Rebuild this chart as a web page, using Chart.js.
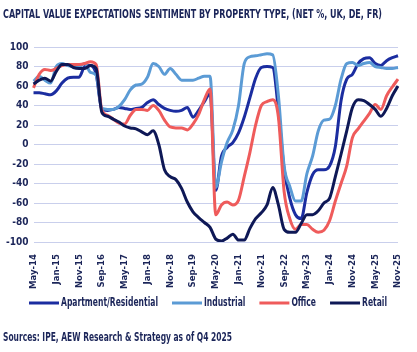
<!DOCTYPE html>
<html>
<head>
<meta charset="utf-8">
<script src="https://cdn.jsdelivr.net/npm/chart.js@4"></script>
<style>
html,body{margin:0;padding:0;background:#fff;}
#wrap{position:relative;width:417px;height:352px;}
</style>
</head>
<body>
<div id="wrap"><canvas id="c" width="417" height="352"></canvas></div>
<script>
const categories = [
  'May-14','Jul-14','Sep-14','Nov-14',
  'Jan-15','Mar-15','Jun-15','Aug-15',
  'Nov-15','Jan-16','Mar-16','Jun-16',
  'Sep-16','Nov-16','Jan-17','Mar-17',
  'May-17','Jul-17','Sep-17','Nov-17',
  'Jan-18','Mar-18','Jun-18','Aug-18',
  'Nov-18','Jan-19','Mar-19','Jun-19',
  'Sep-19','Nov-19','Jan-20','Mar-20',
  'May-20','Jul-20','Sep-20','Nov-20',
  'Jan-21','Mar-21','Jun-21','Aug-21',
  'Nov-21','Jan-22','Mar-22','Jun-22',
  'Sep-22','Nov-22','Jan-23','Mar-23',
  'May-23','Jul-23','Sep-23','Nov-23',
  'Jan-24','Mar-24','Jun-24','Aug-24',
  'Nov-24','Dec-24','Feb-25','Mar-25',
  'May-25','Jun-25','Aug-25','Sep-25',
  'Nov-25'
];
const apartment = [
  53,53,52,51, 55,63,68,69, 69,80,81,72,
  36,35,36,38, 37,36,37,38, 43,46,41,37,
  35,34,35,38, 28,35,44,52, -47,-12,-3,2,
  12,28,48,68, 79,80,79,35, -25,-55,-72,-76,
  -49,-31,-26,-26, -22,-2,45,67, 72,83,88,89,
  83,81,86,89, 91
];
const industrial = [
  65,70,66,63, 80,83,81,80, 80,83,74,71,
  37,36,36,39, 46,56,61,62, 69,83,80,72,
  78,72,66,66, 66,68,70,70, -44,-18,2,15,
  40,83,90,91, 92,93,92,50, -22,-43,-58,-58,
  -30,-12,14,25, 26,40,67,83, 84,81,83,84,
  80,79,78,78, 79
];
const office = [
  58,72,77,76, 78,81,82,82, 82,83,85,82,
  35,30,26,22, 21,30,36,36, 35,40,35,25,
  18,17,17,15, 21,31,46,57, -72,-62,-59,-62,
  -57,-33,-8,20, 40,44,46,28, -48,-76,-87,-82,
  -82,-87,-90,-88, -78,-58,-40,-22, 7,16,24,32,
  41,36,50,59, 67
];
const retail = [
  62,66,68,65, 75,82,82,79, 78,78,81,78,
  33,29,26,23, 19,17,16,13, 10,14,0,-26,
  -33,-36,-45,-59, -69,-75,-80,-85, -97,-99,-96,-92,
  -98,-98,-86,-76, -70,-62,-44,-62, -87,-90,-90,-81,
  -72,-72,-68,-60, -55,-33,-10,14, 38,46,45,41,
  36,29,37,50, 60
];
const yTicks = [-100,-80,-60,-40,-20,0,20,40,60,80,100];
const seriesNames = ['Apartment/Residential','Industrial','Office','Retail'];
const seriesColors = ['#1b2da0','#5b9bd5','#ef5b5b','#0e1856'];
const titleText = 'CAPITAL VALUE EXPECTATIONS SENTIMENT BY PROPERTY TYPE, (NET %, UK, DE, FR)';
const sourceText = 'Sources: IPE, AEW Research & Strategy as of Q4 2025';

const FONT = "'Liberation Sans Narrow','DejaVu Sans Condensed','Roboto Condensed','Liberation Sans',sans-serif";
const NAVY = '#1b2559';

const values = [apartment, industrial, office, retail];
const datasets = seriesNames.map((n,k)=>({
  label:n, data:values[k], borderColor:seriesColors[k], backgroundColor:seriesColors[k],
  borderWidth:3, pointRadius:0, cubicInterpolationMode:'monotone', fill:false,
  order: 4-k
}));

// Condensed-looking texts (title, legend, source) drawn with a width limit
const textOverlay = {
  id:'textOverlay',
  afterDraw(chart){
    const ctx = chart.ctx;
    ctx.save();
    ctx.fillStyle = NAVY;
    ctx.textAlign = 'left';
    ctx.textBaseline = 'middle';
    ctx.font = 'bold 12.5px ' + FONT;
    ctx.fillText(titleText, 3, 15, 379);
    ctx.font = 'bold 11.5px ' + FONT;
    const squeeze = 97 / ctx.measureText(chart.data.datasets[0].label).width;
    let x = 29;
    const ly = 303;
    chart.data.datasets.forEach(ds => {
      ctx.strokeStyle = ds.borderColor;
      ctx.lineWidth = 3;
      ctx.beginPath(); ctx.moveTo(x, ly); ctx.lineTo(x + 30, ly); ctx.stroke();
      const w = ctx.measureText(ds.label).width * squeeze;
      ctx.fillStyle = NAVY;
      ctx.fillText(ds.label, x + 32, ly + 0.5, w);
      x += 32 + w + 14;
    });
    ctx.font = 'bold 11.5px ' + FONT;
    ctx.fillText(sourceText, 3, 338, 229);
    ctx.restore();
  }
};

new Chart(document.getElementById('c'), {
  type:'line',
  data:{labels:categories, datasets},
  plugins:[textOverlay],
  options:{
    responsive:false, animation:false,
    layout:{padding:{left:1,right:19,top:47,bottom:59}},
    plugins:{
      title:{display:false},
      legend:{display:false},
      tooltip:{enabled:false}
    },
    scales:{
      x:{grid:{display:false}, border:{display:false},
        ticks:{autoSkip:false, minRotation:90, maxRotation:90, color:NAVY, padding:4,
          font:{family:FONT, size:9.5, weight:'bold'},
          callback:function(v,i){return i%4===0 ? this.getLabelForValue(v) : null;}}},
      y:{min:-100, max:100, border:{display:false},
        grid:{color:'#c9cfec', lineWidth:1, drawTicks:false},
        afterBuildTicks:(ax)=>{ax.ticks = yTicks.map(v=>({value:v}));},
        ticks:{color:NAVY, padding:5, font:{family:FONT, size:10, weight:'bold'}}}
    }
  }
});
</script>
</body>
</html>
